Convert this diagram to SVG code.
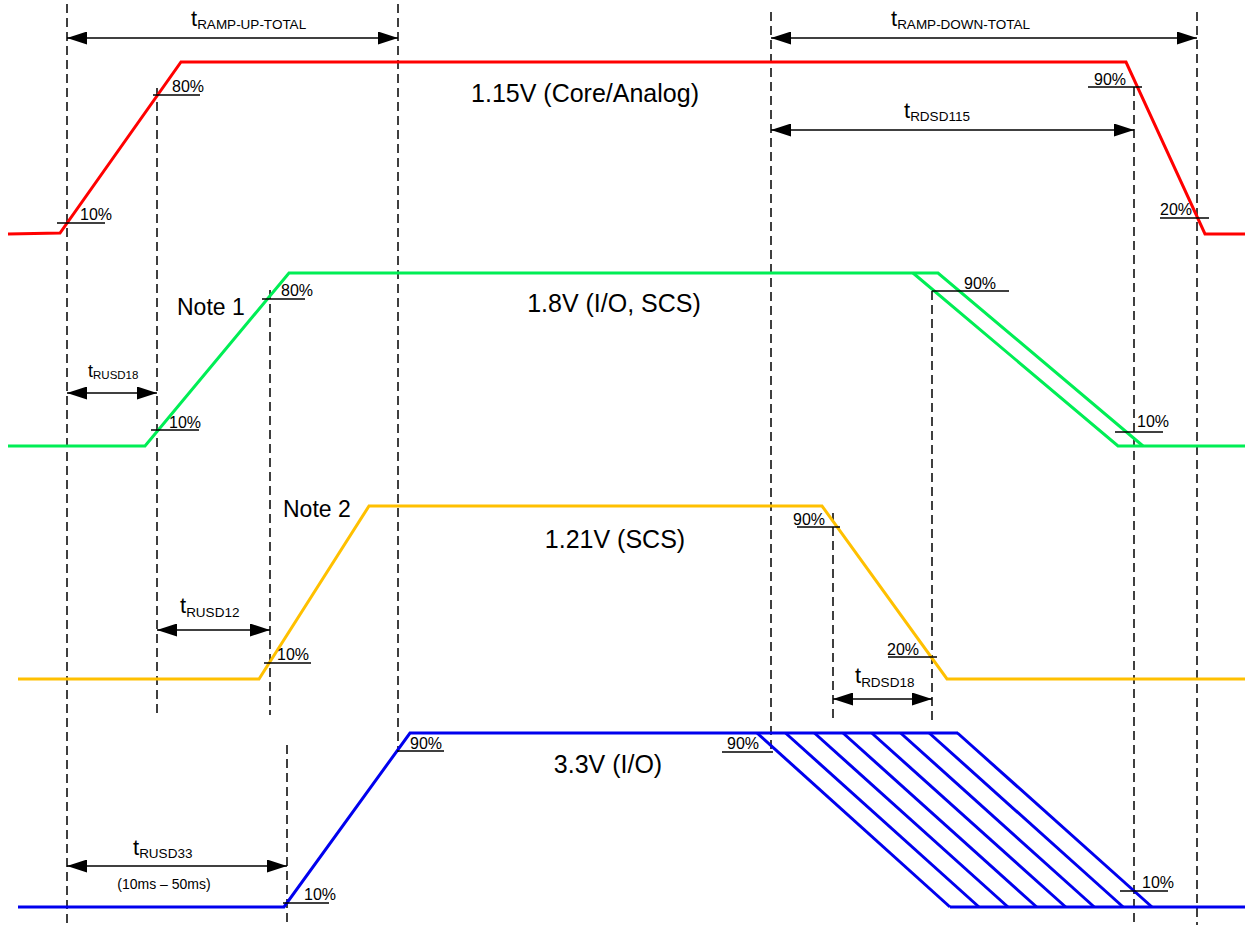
<svg xmlns="http://www.w3.org/2000/svg" width="1247" height="925" viewBox="0 0 1247 925">
<defs>
<marker id="ah" viewBox="0 0 20 13" refX="20" refY="6.5" markerWidth="20" markerHeight="13" markerUnits="userSpaceOnUse" orient="auto-start-reverse">
<path d="M0,0 L20,6.5 L0,13 Z" fill="#000"/>
</marker>
<style>
.dash{stroke:#000;stroke-width:1.5;stroke-dasharray:9,5;fill:none}
.dim{stroke:#000;stroke-width:1.5;fill:none;marker-start:url(#ah);marker-end:url(#ah)}
.mk{stroke:#000;stroke-width:1.5;fill:none}
.sig{fill:none;stroke-width:3;stroke-linejoin:miter}
.red{stroke:#FF0000}
.grn{stroke:#00EE55}
.yel{stroke:#FFC000}
.blu{stroke:#0000EE}
text{font-family:"Liberation Sans",Arial,sans-serif;fill:#000}
.pct{font-size:16px}
.big{font-size:25px}
.t{font-size:22px}
.sub{font-size:13.5px}
</style>
</defs>
<rect width="1247" height="925" fill="#fff"/>

<g id="guides">
<line class="dash" x1="67" y1="4" x2="67" y2="925"/>
<line class="dash" x1="157" y1="88" x2="157" y2="715"/>
<line class="dash" x1="270" y1="290" x2="270" y2="715"/>
<line class="dash" x1="287" y1="745" x2="287" y2="925"/>
<line class="dash" x1="398" y1="4" x2="398" y2="752"/>
<line class="dash" x1="771" y1="12" x2="771" y2="754"/>
<line class="dash" x1="833" y1="513" x2="833" y2="718"/>
<line class="dash" x1="932" y1="291" x2="932" y2="720"/>
<line class="dash" x1="1134" y1="87" x2="1134" y2="925"/>
<line class="dash" x1="1197" y1="12" x2="1197" y2="925"/>
</g>

<g id="sig-115">
<polyline class="sig red" points="8,234 60,233 181,62 1126,62 1205,234 1245,234"/>
<text class="big" x="585" y="102" text-anchor="middle">1.15V (Core/Analog)</text>
<line class="mk" x1="153" y1="95" x2="200" y2="95"/><text class="pct" x="172" y="92">80%</text>
<line class="mk" x1="57" y1="223" x2="105" y2="223"/><text class="pct" x="80" y="220">10%</text>
<line class="mk" x1="1088" y1="87" x2="1142" y2="87"/><text class="pct" x="1094" y="85">90%</text>
<line class="mk" x1="1160" y1="218" x2="1209" y2="218"/><text class="pct" x="1160" y="215">20%</text>
</g>

<g id="sig-18">
<polyline class="sig grn" points="8,446 145,446 289,273 938,273 1143,446"/>
<polyline class="sig grn" points="913,273 1118,446 1245,446"/>
<text class="big" x="614" y="312" text-anchor="middle">1.8V (I/O, SCS)</text>
<text x="177" y="315" font-size="23">Note 1</text>
<line class="mk" x1="262" y1="299" x2="305" y2="299"/><text class="pct" x="281" y="296">80%</text>
<line class="mk" x1="151" y1="430" x2="199" y2="430"/><text class="pct" x="169" y="428">10%</text>
<line class="mk" x1="932" y1="291" x2="1009" y2="291"/><text class="pct" x="964" y="289">90%</text>
<line class="mk" x1="1115" y1="432" x2="1163" y2="432"/><text class="pct" x="1137" y="427">10%</text>
</g>

<g id="sig-121">
<polyline class="sig yel" points="18,679 259,679 369,506 822,506 947,679 1245,679"/>
<text class="big" x="615" y="548" text-anchor="middle">1.21V (SCS)</text>
<text x="283" y="517" font-size="23">Note 2</text>
<line class="mk" x1="264" y1="663" x2="311" y2="663"/><text class="pct" x="277" y="660">10%</text>
<line class="mk" x1="797" y1="527" x2="840" y2="527"/><text class="pct" x="793" y="525">90%</text>
<line class="mk" x1="888" y1="657" x2="937" y2="657"/><text class="pct" x="887" y="655">20%</text>
</g>

<g id="sig-33">
<polyline class="sig blu" points="18,907 284,907 410,733 958,733"/>
<line class="sig blu" x1="950" y1="907" x2="1245" y2="907"/>
<g class="sig blu">
<line x1="757" y1="733" x2="950" y2="907"/>
<line x1="785.5" y1="733" x2="979" y2="907"/>
<line x1="814.4" y1="733" x2="1008" y2="907"/>
<line x1="843" y1="733" x2="1036.7" y2="907"/>
<line x1="871.7" y1="733" x2="1065.7" y2="907"/>
<line x1="900.6" y1="733" x2="1094.3" y2="907"/>
<line x1="929.2" y1="733" x2="1123.2" y2="907"/>
<line x1="957.5" y1="733" x2="1152" y2="907"/>
</g>
<text class="big" x="608" y="773" text-anchor="middle">3.3V (I/O)</text>
<line class="mk" x1="397" y1="751" x2="444" y2="751"/><text class="pct" x="410" y="749">90%</text>
<line class="mk" x1="722" y1="752" x2="773" y2="752"/><text class="pct" x="727" y="749">90%</text>
<line class="mk" x1="283" y1="903" x2="329" y2="903"/><text class="pct" x="304" y="900">10%</text>
<line class="mk" x1="1120" y1="891" x2="1168" y2="891"/><text class="pct" x="1142" y="888">10%</text>
</g>

<g id="connectors">
<line class="dim" x1="67" y1="38" x2="398" y2="38"/>
<line class="dim" x1="771" y1="38" x2="1197" y2="38"/>
<line class="dim" x1="771" y1="130" x2="1134" y2="130"/>
<line class="dim" x1="67" y1="393" x2="157" y2="393"/>
<line class="dim" x1="157" y1="630" x2="270" y2="630"/>
<line class="dim" x1="833" y1="699" x2="932" y2="699"/>
<line class="dim" x1="67" y1="866" x2="287" y2="866"/>
</g>

<g id="labels">
<text x="191" y="26"><tspan class="t">t</tspan><tspan class="sub" dy="2.5">RAMP-UP-TOTAL</tspan></text>
<text x="891" y="26"><tspan class="t">t</tspan><tspan class="sub" dy="2.5">RAMP-DOWN-TOTAL</tspan></text>
<text x="904" y="118"><tspan class="t">t</tspan><tspan class="sub" dy="3">RDSD115</tspan></text>
<text x="88" y="377"><tspan font-size="18">t</tspan><tspan font-size="11.5" dy="1.5">RUSD18</tspan></text>
<text x="180" y="613"><tspan class="t">t</tspan><tspan class="sub" dy="3.5">RUSD12</tspan></text>
<text x="855" y="683"><tspan class="t">t</tspan><tspan class="sub" dy="3.5">RDSD18</tspan></text>
<text x="133" y="855"><tspan class="t">t</tspan><tspan class="sub" dy="2.5">RUSD33</tspan></text>
<text x="164" y="889" font-size="14" text-anchor="middle">(10ms – 50ms)</text>
</g>
</svg>
